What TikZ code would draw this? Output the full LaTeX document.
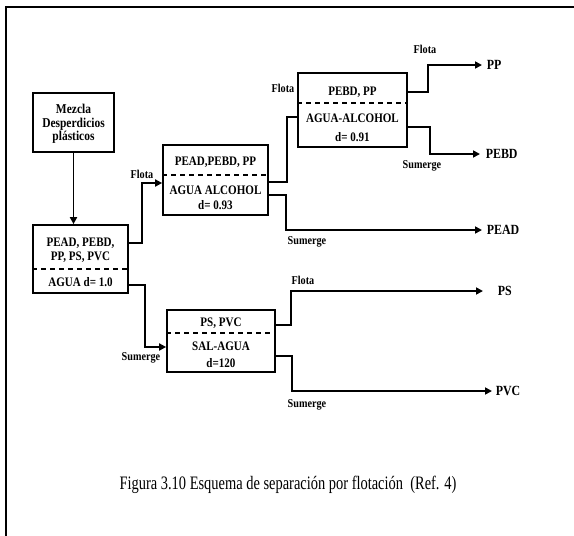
\documentclass[tikz,border=0pt]{standalone}
\usepackage{fontspec}
\setmainfont{Liberation Serif}
\newfontfamily\condfont{Liberation Serif}[FakeStretch=0.85]
\newfontfamily\capfont{Liberation Serif}[FakeStretch=0.76]
\usetikzlibrary{arrows.meta}
\begin{document}
\begin{tikzpicture}[x=1pt,y=-1pt,
  line width=1.7pt,
  box/.style={draw, rectangle, inner sep=0pt},
  btxt/.style={font=\condfont\bfseries\fontsize{13}{12.5}\selectfont, inner sep=0pt, align=center},
  lbl/.style={font=\condfont\bfseries\fontsize{12}{12}\selectfont, inner sep=0pt},
  outl/.style={font=\condfont\bfseries\fontsize{14}{14}\selectfont, anchor=west, inner ysep=0pt},
  arr/.style={-{Triangle[length=7pt,width=7pt]}},
  sepline/.style={dash pattern=on 5pt off 4pt, line width=2pt}]
\useasboundingbox (0,0) rectangle (574,536);
\draw[line width=1.2pt] (6,536) -- (6,7) -- (574,7);

% boxes
\node[box, minimum width=81pt, minimum height=59pt] (mez) at (73.5,122.5) {};
\node[box, minimum width=95pt, minimum height=68pt] (b1) at (80.5,259) {};
\node[box, minimum width=105pt, minimum height=70pt] (b2) at (215.5,180) {};
\node[box, minimum width=108pt, minimum height=62pt] (b3) at (221,341) {};
\node[box, minimum width=109pt, minimum height=74pt] (b4) at (352.5,110) {};

% box texts
\node[btxt, font=\condfont\bfseries\fontsize{13.5}{13.5}\selectfont] (mezt) at (73.5,124) {Mezcla\\Desperdicios\\plásticos};
\node[btxt] (b1a) at (80.5,243) {PEAD, PEBD,};
\node[btxt] (b1b) at (80.5,257) {PP, PS, PVC};
\node[btxt] (b1c) at (80.5,282) {AGUA d= 1.0};
\node[btxt] (b2a) at (215.5,162) {PEAD,PEBD, PP};
\node[btxt] (b2b) at (215.5,190) {AGUA ALCOHOL};
\node[btxt] (b2c) at (215.5,205) {d= 0.93};
\node[btxt] (b3a) at (221,323) {PS, PVC};
\node[btxt] (b3b) at (221,346) {SAL-AGUA};
\node[btxt] (b3c) at (221,363) {d=120};
\node[btxt] (b4a) at (352.5,92) {PEBD, PP};
\node[btxt] (b4b) at (352.5,118) {AGUA-ALCOHOL};
\node[btxt] (b4c) at (352.5,137) {d= 0.91};

% dashed separators
\draw[sepline] (b1.west |- 0,269) -- (b1.east |- 0,269);
\draw[sepline] (b2.west |- 0,175) -- (b2.east |- 0,175);
\draw[sepline] (b3.west |- 0,333) -- (b3.east |- 0,333);
\draw[sepline] (b4.west |- 0,103) -- (b4.east |- 0,103);

% outputs
\node[outl, inner xsep=4pt] (pp) at (482,65) {PP};
\node[outl, inner xsep=5pt] (pebd) at (480,154) {PEBD};
\node[outl, inner xsep=4pt] (pead) at (482,230) {PEAD};
\node[outl, inner xsep=14pt] (ps) at (483,291) {PS};
\node[outl, inner xsep=3pt] (pvc) at (492,391) {PVC};

% labels
\node[lbl] (l1) at (142,174) {Flota};
\node[lbl] (l2) at (141,358) {Sumerge};
\node[lbl] (l3) at (283,88) {Flota};
\node[lbl] (l4) at (307,242) {Sumerge};
\node[lbl] (l5) at (425,49) {Flota};
\node[lbl] (l6) at (422,166) {Sumerge};
\node[lbl] (l7) at (303,280) {Flota};
\node[lbl] (l8) at (307,405) {Sumerge};

% connectors
\draw[arr] (mez.south) -- (mez.south |- b1.north);
\draw[arr] (b1.east |- 0,243) -- (142,243) |- (b2.west |- 0,183);
\draw[arr] (b1.east |- 0,285) -- (145,285) |- (b3.west |- 0,347);
\draw (b2.east |- 0,182) -- (287,182) |- (b4.west |- 0,117);
\draw[arr] (b2.east |- 0,195) -- (286,195) |- (pead.west);
\draw[arr] (b4.east |- 0,92) -- (428,92) |- (pp.west);
\draw[arr] (b4.east |- 0,127) -- (430,127) |- (pebd.west);
\draw[arr] (b3.east |- 0,325) -- (291,325) |- (ps.west);
\draw[arr] (b3.east |- 0,356) -- (292,356) |- (pvc.west);

% caption
\node (cap) at (288,485) {\capfont\fontsize{19}{22}\selectfont Figura 3.10 Esquema de separación por flotación\ \ (Ref. 4)};
\end{tikzpicture}
\end{document}
